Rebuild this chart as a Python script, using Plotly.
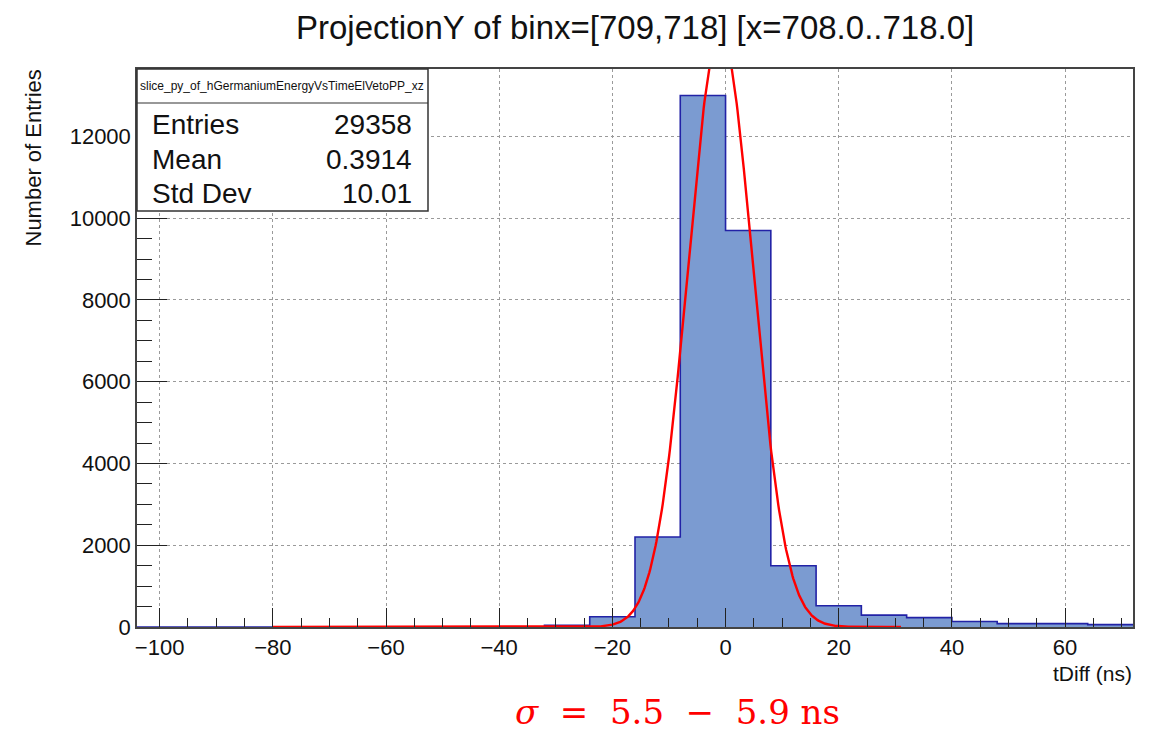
import numpy as np
import plotly.graph_objects as go

# ---------------- data ----------------
BIN_LOW = -104
BIN_WIDTH = 8
bin_counts = [0, 0, 0, 0, 0, 0, 0, 0, 5, 40, 250, 2200, 13000, 9700,
              1500, 520, 290, 230, 135, 82, 82, 58]
bin_edges = [BIN_LOW + BIN_WIDTH * i for i in range(len(bin_counts) + 1)]

# Gaussian fit parameters (as drawn by the red fit curve)
FIT_AMP = 14500
FIT_MEAN = -0.9
FIT_SIGMA = 5.75
FIT_RANGE = (-80, 31)

stats_title = "slice_py_of_hGermaniumEnergyVsTimeElVetoPP_xz"
stats_names = ["Entries", "Mean", "Std Dev"]
stats_values = ["29358", "0.3914", "10.01"]

x_ticks = [-100, -80, -60, -40, -20, 0, 20, 40, 60]
y_ticks = [0, 2000, 4000, 6000, 8000, 10000, 12000]
X_RANGE = (-104, 72)
Y_RANGE = (0, 13650)

title_text = "ProjectionY of binx=[709,718] [x=708.0..718.0]"
x_title = "tDiff (ns)"
y_title = "Number of Entries"
sigma_note = "<i>σ</i>\u00a0\u00a0=\u00a0\u00a05.5\u00a0\u00a0−\u00a0\u00a05.9\u00a0ns"

# ---------------- layout geometry ----------------
W, H = 1160, 732
L, R, T, B = 137, 1133, 69, 627


def px(x):
    return (x - L) / (R - L)


def py(y):
    return (B - y) / (B - T)


FONT = "Liberation Sans, Arial, Helvetica, sans-serif"

fig = go.Figure()

# histogram as a filled step outline
hx = bin_edges
hy = bin_counts + [bin_counts[-1]]
fig.add_trace(go.Scatter(
    x=hx, y=hy, mode="lines", line_shape="hv",
    line=dict(color="#2222a6", width=1.6),
    fill="tozeroy", fillcolor="#7b9bd1",
    hoverinfo="skip", showlegend=False,
))

# gaussian fit curve
fx = np.linspace(FIT_RANGE[0], FIT_RANGE[1], 800)
fy = FIT_AMP * np.exp(-0.5 * ((fx - FIT_MEAN) / FIT_SIGMA) ** 2)
fig.add_trace(go.Scatter(
    x=fx, y=fy, mode="lines", line=dict(color="#ff0000", width=2.4),
    hoverinfo="skip", showlegend=False,
))

axis_common = dict(
    showline=True, linecolor="#444444", linewidth=1.5, mirror=True,
    showgrid=True, gridcolor="#9a9a9a", griddash="dot", gridwidth=1,
    zeroline=False, ticks="inside", tickcolor="#222222", tickwidth=1.2,
    tickfont=dict(family=FONT, size=22, color="#111111"),
)

fig.update_xaxes(
    range=list(X_RANGE), tickvals=x_ticks, ticklen=19,
    minor=dict(ticks="inside", dtick=5, ticklen=9, tickcolor="#222222", showgrid=False),
    **axis_common,
)
fig.update_yaxes(
    range=list(Y_RANGE), tickvals=y_ticks, tickformat="d", ticklen=30,
    minor=dict(ticks="inside", dtick=500, ticklen=15, tickcolor="#222222", showgrid=False),
    **axis_common,
)

shapes = []
annotations = []

# stats box
shapes.append(dict(type="rect", xref="paper", yref="paper",
                   x0=px(137), x1=px(428), y0=py(211), y1=py(69),
                   fillcolor="white", line=dict(color="#333333", width=1.5), layer="above"))
shapes.append(dict(type="line", xref="paper", yref="paper",
                   x0=px(137), x1=px(428), y0=py(103), y1=py(103),
                   line=dict(color="#333333", width=1.2), layer="above"))
annotations.append(dict(text=stats_title, xref="paper", yref="paper",
                        x=px(282), y=py(86), xanchor="center", yanchor="middle",
                        showarrow=False, font=dict(family=FONT, size=12, color="#111111")))
row_y = [124, 159, 193]
for name, val, yy in zip(stats_names, stats_values, row_y):
    annotations.append(dict(text=name, xref="paper", yref="paper",
                            x=px(150), y=py(yy), xanchor="left", yanchor="middle",
                            showarrow=False, font=dict(family=FONT, size=28, color="#111111")))
    annotations.append(dict(text=val, xref="paper", yref="paper",
                            x=px(414), y=py(yy), xanchor="right", yanchor="middle",
                            showarrow=False, font=dict(family=FONT, size=28, color="#111111")))

# title
annotations.append(dict(text=title_text, xref="paper", yref="paper",
                        x=px(635), y=py(27), xanchor="center", yanchor="middle",
                        showarrow=False, font=dict(family=FONT, size=33, color="#111111")))
# axis titles
annotations.append(dict(text=x_title, xref="paper", yref="paper",
                        x=px(1134), y=py(673), xanchor="right", yanchor="middle",
                        showarrow=False, font=dict(family=FONT, size=21, color="#111111")))
annotations.append(dict(text=y_title, xref="paper", yref="paper",
                        x=px(33), y=py(68), xanchor="center", yanchor="top", textangle=-90,
                        showarrow=False, font=dict(family=FONT, size=22, color="#111111")))
# sigma note
annotations.append(dict(text=sigma_note, xref="paper", yref="paper",
                        x=px(677), y=py(712), xanchor="center", yanchor="middle",
                        showarrow=False, font=dict(family="DejaVu Serif, Liberation Serif, serif",
                                                   size=34, color="#ff0000")))

fig.update_layout(
    width=W, height=H,
    margin=dict(l=L, r=W - R, t=T, b=H - B),
    paper_bgcolor="white", plot_bgcolor="white",
    shapes=shapes, annotations=annotations,
    showlegend=False,
)

fig.write_html("out.html")
